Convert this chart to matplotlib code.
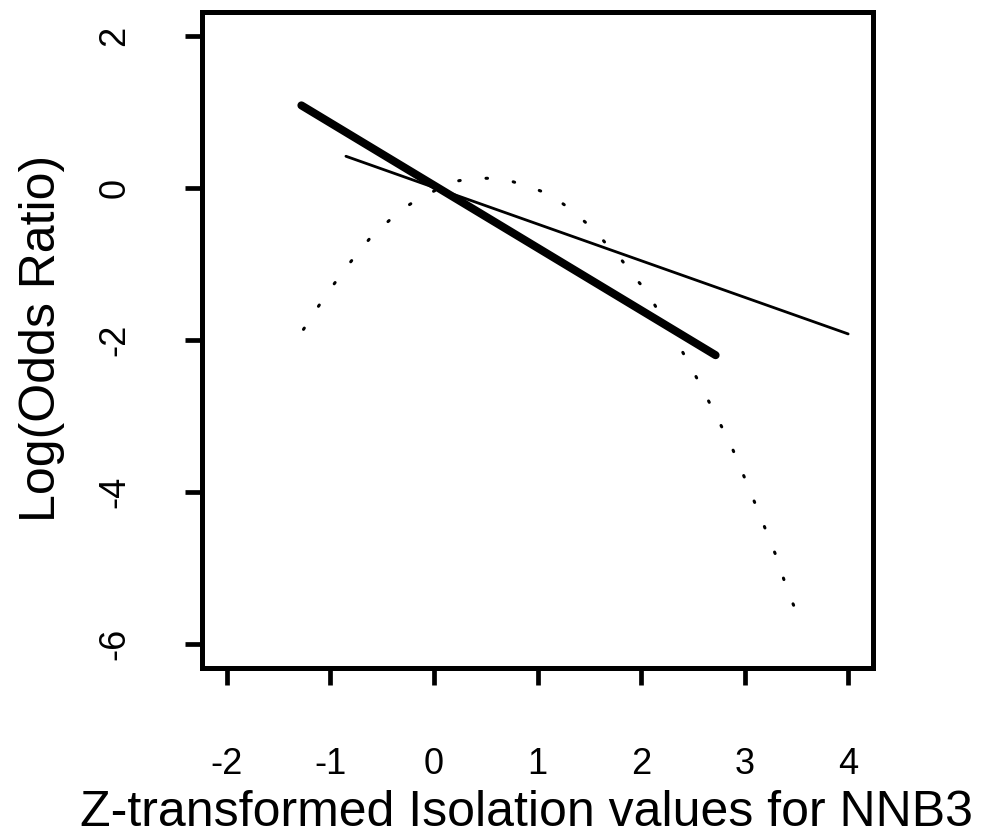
import matplotlib
matplotlib.use("Agg")
import matplotlib.pyplot as plt
import numpy as np

plt.rcParams["font.family"] = ["Liberation Sans", "DejaVu Sans"]

# ── Data ─────────────────────────────────────────────────────────────────────
# thick line: fitted linear model
thick_x = [-1.28, 2.72]
thick_y = [1.09, -2.20]

# thin line: second linear fit
thin_x = [-0.85, 4.0]
thin_y = [0.42, -1.92]

# dotted curve: quadratic-looking fit
curve_x = [-1.26, -1.06, -0.84, -0.60, -0.32, -0.16, 0.17, 0.37, 0.57, 0.75,
           0.94, 1.13, 1.28, 1.43, 1.57, 1.69, 1.82, 1.93, 2.06, 2.15,
           2.35, 2.53, 2.70, 2.87, 3.02, 3.16, 3.30, 3.42, 3.50]
curve_y = [-1.86, -1.44, -1.03, -0.63, -0.29, -0.15, 0.08, 0.13, 0.13, 0.09,
           0.01, -0.09, -0.24, -0.41, -0.58, -0.78, -0.96, -1.16, -1.37, -1.58,
           -2.03, -2.48, -2.93, -3.39, -3.88, -4.35, -4.83, -5.32, -5.58]

x_ticks = [-2, -1, 0, 1, 2, 3, 4]
y_ticks = [-6, -4, -2, 0, 2]

# ── Plot ─────────────────────────────────────────────────────────────────────
fig = plt.figure(figsize=(9.88, 8.36), dpi=100)
ax = fig.add_axes([202 / 988, 1 - 668 / 836, 671 / 988, 656 / 836])

ax.plot(thick_x, thick_y, color="black", lw=5.8, solid_capstyle="round")
ax.plot(thin_x, thin_y, color="black", lw=2.0, solid_capstyle="round")
ax.plot(curve_x, curve_y, color="black", lw=2.2, dashes=(0.5, 8.5),
        dash_capstyle="round")

ax.set_xlim(-2.24, 4.24)
ax.set_ylim(-6.32, 2.32)
ax.set_xticks(x_ticks)
ax.set_yticks(y_ticks)
ax.set_xticklabels([str(v) for v in x_ticks])
ax.set_yticklabels([str(v) for v in y_ticks])

for sp in ax.spines.values():
    sp.set_linewidth(3.6)
ax.tick_params(direction="out", length=12, width=3.4, labelsize=26, color="black")
ax.tick_params(axis="x", pad=45)
ax.tick_params(axis="y", pad=38)
plt.setp(ax.get_yticklabels(), rotation=90, va="center", ha="right")

fig.text(526 / 988, 1 - 813 / 836, "Z-transformed Isolation values for NNB3",
         ha="center", va="center", fontsize=36)
fig.text(42 / 988, 1 - 338 / 836, "Log(Odds Ratio)", rotation=90,
         ha="center", va="center", fontsize=36)

fig.savefig("out.png", dpi=100)
